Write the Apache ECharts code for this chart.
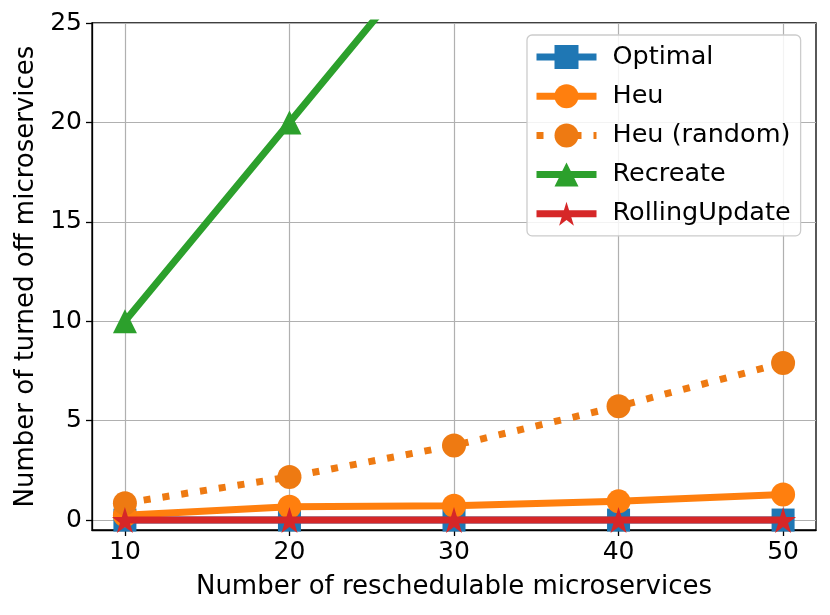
<!DOCTYPE html>
<html>
<head>
<meta charset="utf-8">
<script src="https://cdn.jsdelivr.net/npm/echarts@6/dist/echarts.min.js"></script>
<style>
html,body{margin:0;padding:0;background:#fff;}
#chart{width:830px;height:615px;}
</style>
</head>
<body>
<div id="chart"></div>
<script>
const xValues = [10, 20, 30, 40, 50];
const optimal = [0, 0, 0, 0, 0];
const heu = [0.24, 0.67, 0.72, 0.94, 1.29];
const heuRandom = [0.85, 2.17, 3.75, 5.72, 7.9];
const recreate = [10, 20, 30, 40, 50];
const rollingUpdate = [0, 0, 0, 0, 0];
const xTicks = [10, 20, 30, 40, 50];
const yTicks = [0, 5, 10, 15, 20, 25];

const FONT = 'DejaVu Sans';
const STAR = 'path://M50,0 L61.2,34.5 L97.6,34.5 L68.2,55.9 L79.4,90.5 L50,69.1 L20.6,90.5 L31.8,55.9 L2.4,34.5 L38.8,34.5 Z';

function pairs(ys) { return xValues.map((x, i) => [x, ys[i]]); }

const gridLines = xTicks.map(v => ({ xAxis: v })).concat(yTicks.map(v => ({ yAxis: v })));

const chart = echarts.init(document.getElementById('chart'), null, { renderer: 'canvas' });
chart.setOption({
  animation: false,
  backgroundColor: '#fff',
  textStyle: { fontFamily: FONT },
  grid: {
    left: 92, right: 14, top: 23, bottom: 85,
    show: true, borderColor: '#000', borderWidth: 1.3, backgroundColor: 'transparent',
    containLabel: false, outerBoundsMode: 'none'
  },
  xAxis: {
    type: 'value', min: 8, max: 52,
    name: 'Number of reschedulable microservices',
    nameLocation: 'middle', nameGap: 44,
    nameTextStyle: { fontSize: 26, color: '#000', fontFamily: FONT },
    axisLine: { show: true, onZero: false, lineStyle: { color: '#000', width: 1.3 } },
    axisTick: { show: true, length: 6, lineStyle: { color: '#000', width: 1.3 }, customValues: xTicks },
    axisLabel: { fontSize: 25, color: '#000', margin: 10, fontFamily: FONT, customValues: xTicks },
    splitLine: { show: false }
  },
  yAxis: {
    type: 'value', min: -0.5, max: 25,
    name: 'Number of turned off microservices',
    nameLocation: 'middle', nameGap: 51, nameRotate: 90,
    nameTextStyle: { fontSize: 26, color: '#000', fontFamily: FONT },
    axisLine: { show: true, onZero: false, lineStyle: { color: '#000', width: 1.3 } },
    axisTick: { show: true, length: 6, lineStyle: { color: '#000', width: 1.3 }, customValues: yTicks },
    axisLabel: { fontSize: 25, color: '#000', margin: 10, fontFamily: FONT, customValues: yTicks },
    splitLine: { show: false }
  },
  legend: {
    data: ['Optimal', 'Heu', 'Heu (random)', 'Recreate', 'RollingUpdate'],
    orient: 'vertical',
    left: 527, top: 35,
    padding: [9, 10, 9, 6],
    itemWidth: 60, itemHeight: 30, itemGap: 8.7 + 4.5,
    lineStyle: { width: 7 },
    textStyle: { fontSize: 25.5, color: '#000', fontFamily: FONT, padding: [0, 0, 0, 11] },
    backgroundColor: 'rgba(255,255,255,0.85)',
    borderColor: '#cccccc', borderWidth: 1.3, borderRadius: 5
  },
  series: [
    {
      name: '_grid', type: 'line', data: [], z: 0, silent: true,
      markLine: {
        silent: true, symbol: ['none', 'none'], z: 0,
        label: { show: false },
        lineStyle: { color: '#b0b0b0', width: 1.2, type: 'solid' },
        emphasis: { disabled: true },
        data: gridLines
      }
    },
    {
      name: 'Optimal', type: 'line', data: pairs(optimal), z: 2,
      symbol: 'rect', symbolSize: 23, color: '#1f77b4',
      lineStyle: { width: 7, color: '#1f77b4' }, itemStyle: { color: '#1f77b4' }
    },
    {
      name: 'Heu', type: 'line', data: pairs(heu), z: 3,
      symbol: 'circle', symbolSize: 24, color: '#ff7f0e',
      lineStyle: { width: 7, color: '#ff7f0e' }, itemStyle: { color: '#ff7f0e' }
    },
    {
      name: 'Heu (random)', type: 'line', data: pairs(heuRandom), z: 4,
      symbol: 'circle', symbolSize: 24, color: '#ee7a12',
      lineStyle: { width: 7, color: '#ee7a12', type: [7, 12], cap: 'butt' }, itemStyle: { color: '#ee7a12' }
    },
    {
      name: 'Recreate', type: 'line', data: pairs(recreate), z: 5,
      symbol: 'triangle', symbolSize: 24, color: '#2ca02c',
      lineStyle: { width: 7, color: '#2ca02c' }, itemStyle: { color: '#2ca02c' }
    },
    {
      name: 'RollingUpdate', type: 'line', data: pairs(rollingUpdate), z: 6,
      symbol: STAR, symbolSize: 26, color: '#d62728',
      lineStyle: { width: 7, color: '#d62728' }, itemStyle: { color: '#d62728' }
    }
  ]
});
</script>
</body>
</html>
